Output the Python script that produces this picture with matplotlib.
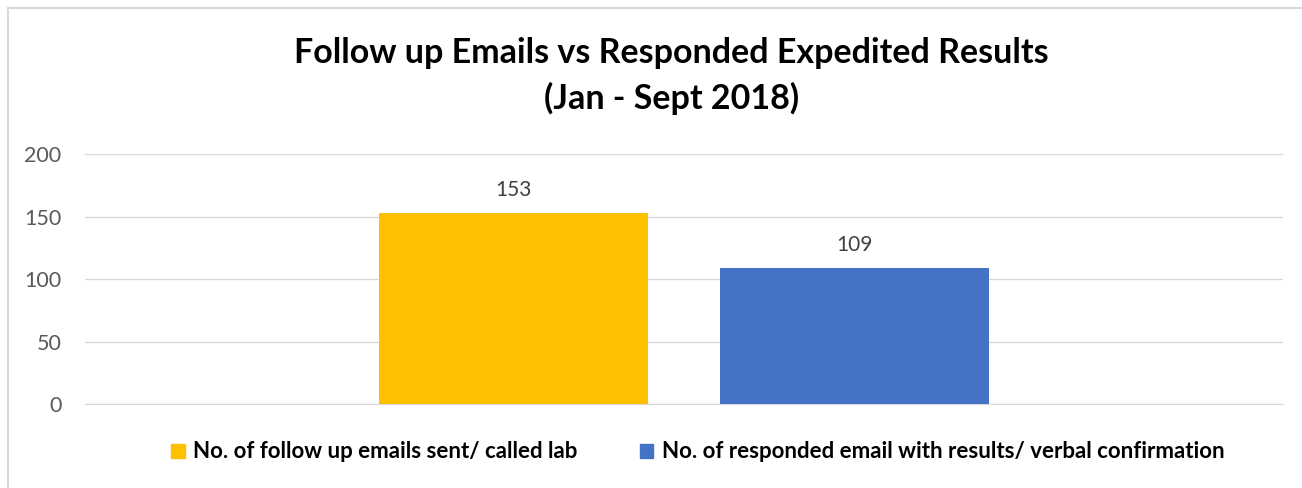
import matplotlib.pyplot as plt
from matplotlib.lines import Line2D

title = "Follow up Emails vs Responded Expedited Results\n(Jan - Sept 2018)"
series_names = [
    "No. of follow up emails sent/ called lab",
    "No. of responded email with results/ verbal confirmation",
]
series_values = [153, 109]
series_colors = ["#FFC000", "#4472C4"]
y_ticks = [0, 50, 100, 150, 200]

plt.rcParams["font.family"] = ["Lato", "DejaVu Sans"]

fig = plt.figure(figsize=(13.02, 4.88), dpi=100)
ax = fig.add_axes([85 / 1302, 1 - 404 / 488, 1198 / 1302, 250 / 488])

width = 0.2245
offsets = [-0.1425, 0.1425]
for name, val, col, off in zip(series_names, series_values, series_colors, offsets):
    bars = ax.bar(off, val, width=width, color=col, label=name, zorder=3)
    ax.bar_label(bars, labels=[str(val)], padding=9, fontsize=15, color="#404040")

ax.set_xlim(-0.5, 0.5)
ax.set_ylim(0, 200)
ax.set_yticks(y_ticks)
ax.set_xticks([])
ax.tick_params(axis="y", length=0, pad=17, labelsize=15.5, labelcolor="#595959")
ax.grid(axis="y", color="#D9D9D9", linewidth=1, zorder=0)
for s in ["top", "right", "left"]:
    ax.spines[s].set_visible(False)
ax.spines["bottom"].set_color("#D9D9D9")

fig.text(0.5155, 1 - 76 / 488, title, ha="center", va="center",
         fontsize=24.5, fontweight="bold", color="black", linespacing=1.45)

handles = [plt.Rectangle((0, 0), 1, 1, color=c) for c in series_colors]
fig.legend(handles, series_names, loc="center", bbox_to_anchor=(698 / 1302, 1 - 452 / 488),
           ncol=2, frameon=False, handlelength=0.6, handleheight=0.6,
           handletextpad=0.4, columnspacing=2.8, prop={"weight": "bold", "size": 16})

# chart frame (left and top edges visible in the reference)
fig.add_artist(Line2D([8 / 1302, 8 / 1302], [0, 1 - 8 / 488], color="#D9D9D9", lw=1.5))
fig.add_artist(Line2D([8 / 1302, 1], [1 - 8 / 488, 1 - 8 / 488], color="#D9D9D9", lw=1.5))

fig.savefig("out.png", dpi=100)
